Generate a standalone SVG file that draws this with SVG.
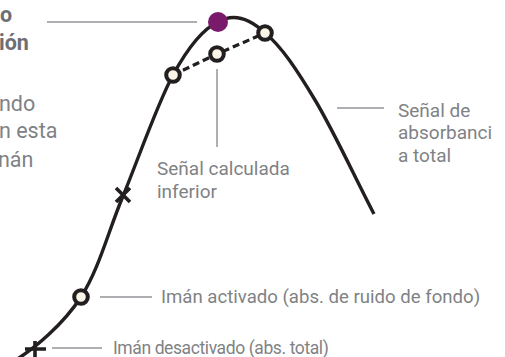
<svg xmlns="http://www.w3.org/2000/svg" width="505" height="357" viewBox="0 0 505 357">
<style>
.lbl{font-family:Roboto,"Liberation Sans",sans-serif;font-size:19px;fill:#7f8285}
.big{font-family:Roboto,"Liberation Sans",sans-serif;font-size:21.5px;fill:#7f8285}
.bold{font-family:Roboto,"Liberation Sans",sans-serif;font-size:21.5px;font-weight:bold;fill:#6d6e71}
.lead{stroke:#939598;stroke-width:1.5;fill:none}
.curve{stroke:#231f20;stroke-width:3.4;fill:none}
.pt{fill:#fbf5e8;stroke:#231f20;stroke-width:4}
.mark{stroke:#231f20;stroke-width:3.6;fill:none}
</style>
<rect width="505" height="357" fill="#ffffff"/>
<g id="connectors">
<line class="lead" x1="47" y1="22" x2="197" y2="22"/>
<line class="lead" x1="217" y1="69" x2="217" y2="147"/>
<line class="lead" x1="337" y1="108" x2="384" y2="108"/>
<line class="lead" x1="100" y1="297" x2="152" y2="297"/>
<line class="lead" x1="52" y1="348" x2="102" y2="348"/>
<path id="dashed" d="M173 75 L217 54 L265 33" stroke="#231f20" stroke-width="3.2" stroke-dasharray="7 4" fill="none"/>
</g>
<g id="curve">
<path class="curve" d="M14 361 C34 349.3 63.3 324.3 81 297 C98.7 269.7 107.7 233 123 196 C138.3 159 157.2 104 173 75 C188.8 46 202.7 29 218 22 C233.3 13 249 18 265 33 C281.2 46 296.8 69.8 315 100 C333.2 130.2 354.3 176 374 214"/>
</g>
<g id="text-left">
<text class="bold" x="0" y="22">o</text>
<text class="bold" x="-1" y="50">ión</text>
<text class="big" x="-1" y="111">ndo</text>
<text class="big" x="-1" y="138">n esta</text>
<text class="big" x="-2" y="167">nán</text>
</g>
<g id="peak"><circle cx="218" cy="22" r="10" fill="#7a1a6b"/></g>
<g id="calc-lower">
<circle class="pt" cx="173" cy="75" r="6.8"/>
<circle class="pt" cx="217" cy="54" r="6.8"/>
<circle class="pt" cx="265" cy="33" r="6.8"/>
<text class="lbl" x="157" y="175">Señal calculada</text>
<text class="lbl" x="157" y="198">inferior</text>
</g>
<g id="total-signal">
<text class="lbl" x="398" y="117">Señal de</text>
<text class="lbl" x="398" y="139">absorbanci</text>
<text class="lbl" x="398" y="162">a total</text>
</g>
<g id="mark-x"><path class="mark" d="M116 188 L130 202 M130 188 L116 202"/></g>
<g id="magnet-on">
<circle class="pt" cx="81" cy="297" r="6.8"/>
<text class="lbl" x="161" y="303" style="font-size:18.6px">Imán activado (abs. de ruido de fondo)</text>
</g>
<g id="magnet-off">
<path class="mark" d="M25 349 L46 349 M35 341 L35 357"/>
<text class="lbl" x="113" y="354" style="font-size:17.5px;letter-spacing:-0.4px">Imán desactivado (abs. total)</text>
</g>
</svg>
